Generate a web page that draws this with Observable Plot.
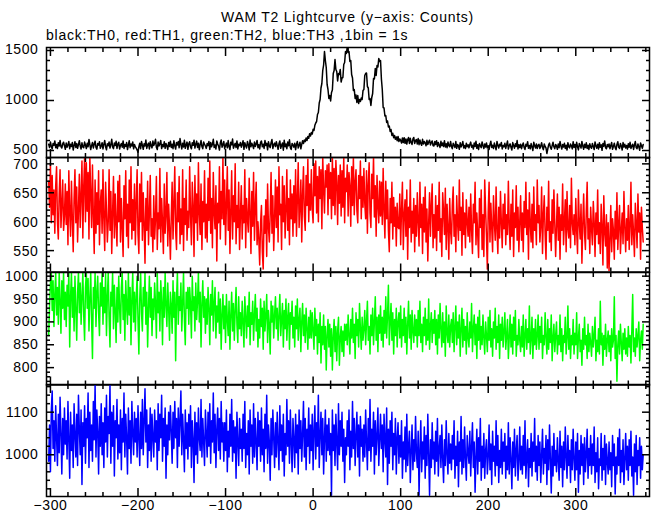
<!DOCTYPE html>
<html><head><meta charset="utf-8">
<script src="https://cdn.jsdelivr.net/npm/d3@7"></script>
<script src="https://cdn.jsdelivr.net/npm/@observablehq/plot@0.6"></script>
<style>
body{margin:0;background:#fff;}
#chart{position:relative;width:652px;height:515px;font-family:"Liberation Sans",Arial,sans-serif;overflow:hidden;}
.t{position:absolute;font-size:14px;line-height:16px;letter-spacing:0.75px;color:#000;white-space:nowrap;}
</style></head><body>
<div id="chart">
<div class="t" style="left:0;width:695px;text-align:center;top:9px">WAM T2 Lightcurve (y−axis: Counts)</div>
<div class="t" style="left:46px;top:27px">black:TH0, red:TH1, green:TH2, blue:TH3 ,1bin = 1s</div>
</div>
<script>
const tStart = -302; // time (s) of first 1 s bin
const th0 = [
562,530,585,541,515,570,552,596,528,560,520,578,545,601,538,525,566,583,548,512,
575,533,556,590,518,563,540,580,505,551,588,530,569,522,560,598,545,515,577,536,
527,584,555,519,572,538,610,560,510,549,581,525,565,594,532,514,571,553,587,522,
546,578,516,561,600,538,507,568,547,585,524,558,612,535,518,575,549,592,521,564,
583,515,552,570,533,596,520,561,540,579,509,555,598,528,566,545,586,517,560,536,
524,505,482,536,572,518,590,553,512,568,545,604,521,556,574,515,588,547,526,595,
549,572,612,532,509,584,546,565,600,519,559,538,587,522,570,548,511,580,541,593,
530,563,518,597,547,514,581,555,589,527,620,561,516,573,536,602,522,558,584,512,
566,588,535,517,578,552,603,524,562,594,531,572,508,558,599,540,518,586,561,545,
521,570,549,590,510,580,537,563,612,529,556,515,595,565,543,504,575,605,533,558,
590,518,551,574,527,600,539,509,583,557,615,522,550,571,530,596,516,562,548,581,
533,562,597,512,578,547,525,590,558,505,604,538,572,552,519,585,541,566,601,528,
557,516,582,595,537,563,521,600,550,571,507,588,546,529,579,610,520,558,574,540,
588,551,512,567,596,522,553,576,503,602,538,565,518,584,548,607,529,510,571,555,
534,573,508,560,590,524,552,583,517,561,598,570,605,588,625,600,640,622,668,645,
680,665,712,700,752,775,790,860,880,975,1010,1125,1170,1300,1355,1490,1400,1330,1160,1110,
1020,1050,995,1080,1105,1270,1300,1410,1310,1290,1195,1270,1260,1310,1185,1225,1230,1360,1380,1490,
1470,1535,1480,1490,1390,1400,1260,1225,1100,1110,1020,1055,980,1050,970,1010,990,1025,1010,1100,
1110,1250,1270,1275,1140,1125,1010,1020,950,1030,1070,1220,1215,1320,1250,1350,1335,1420,1390,1400,
1215,1110,930,925,845,850,780,795,735,745,690,710,650,672,628,650,612,635,598,640,
590,615,600,575,625,580,628,572,615,565,610,630,570,622,580,560,615,630,570,600,
610,565,620,558,605,570,552,612,566,590,575,548,602,560,585,603,556,580,595,550,
545,590,560,598,540,580,553,530,592,548,575,540,598,535,568,528,585,550,538,590,
540,518,572,553,530,590,522,560,545,512,578,536,556,590,525,550,520,573,538,557,
526,560,584,533,552,515,575,540,592,522,558,510,570,547,528,586,550,519,565,535,
576,524,548,511,560,592,530,553,520,574,541,508,590,552,525,563,545,581,516,550,
537,572,521,556,594,514,548,566,532,505,579,549,523,568,540,600,516,558,530,563,
518,552,575,531,510,562,544,588,522,551,517,569,536,500,582,547,524,565,519,553,
562,520,545,578,530,508,566,540,525,470,515,556,574,532,512,549,583,537,518,560,
545,512,566,528,590,548,514,560,535,572,520,553,505,578,538,526,565,547,516,588,
530,561,517,582,536,506,570,549,524,591,545,513,563,529,577,520,552,510,568,534,
522,570,541,509,586,548,523,562,515,578,532,557,502,569,543,596,528,517,560,538,
566,518,550,580,512,541,573,528,508,561,588,532,521,570,546,505,579,535,562,524,
551,514,568,533,582,520,545,563,511,555,590,529,518,566,537,503,575,548,522,560
];
const th1 = [
670,625,700,598,680,612,655,580,662,695,600,570,648,690,590,630,672,585,610,665,
595,652,560,688,615,575,670,605,548,640,690,598,660,565,620,682,590,645,705,572,
660,710,600,702,618,685,570,712,648,590,698,610,545,672,580,650,595,688,560,632,
655,580,690,605,550,668,620,565,600,690,585,652,545,615,678,572,648,595,558,670,
600,680,565,640,590,540,662,605,688,575,630,555,672,598,695,570,638,585,665,560,
632,690,580,545,665,600,685,568,650,595,528,640,585,670,560,615,680,575,605,548,
645,570,605,678,552,615,588,692,565,640,598,545,665,580,612,685,558,630,590,535,
608,668,570,630,695,585,552,650,600,678,562,622,578,690,550,640,595,672,568,618,
590,695,612,560,668,625,540,680,598,648,568,702,615,578,665,552,635,600,688,572,
630,565,675,602,705,580,640,555,685,615,588,662,532,632,598,695,570,652,605,712,
595,672,560,630,695,585,655,545,618,688,570,645,600,700,562,628,590,668,552,612,
662,570,628,598,690,555,640,605,582,675,615,545,652,592,685,568,625,668,560,600,
570,525,598,628,548,518,610,580,638,540,665,590,565,615,685,580,645,550,605,672,
590,660,565,695,612,630,552,678,600,662,572,620,690,585,640,560,672,605,648,575,
662,598,690,575,640,702,590,625,672,565,648,695,610,585,680,628,708,600,665,620,
690,622,598,700,645,705,615,678,600,695,640,690,588,712,655,615,688,660,698,612,
700,640,685,605,712,628,692,612,706,668,595,680,632,698,610,688,625,712,598,675,
652,698,610,685,662,592,695,628,712,612,668,690,620,598,680,640,705,605,678,625,
692,632,605,688,580,665,702,615,590,682,640,712,608,662,575,680,628,598,670,610,
668,595,692,620,572,670,605,655,585,548,640,598,668,570,642,592,625,558,632,590,
588,648,560,622,668,552,612,638,575,655,535,625,590,672,565,618,580,640,548,628,
575,650,600,558,668,590,630,545,642,582,660,565,622,532,598,650,575,628,665,555,
612,572,645,550,628,585,668,565,605,540,650,618,578,658,552,630,590,535,640,585,
562,628,660,575,612,548,645,598,568,672,585,625,542,650,578,615,555,638,600,575,
625,565,648,585,545,630,598,668,560,615,578,538,640,590,655,552,612,540,672,620,
575,518,618,668,565,632,590,548,645,600,568,660,585,545,625,572,652,598,555,630,
588,648,560,612,578,670,595,552,630,575,655,540,615,590,662,568,625,548,600,645,
568,615,548,635,590,668,578,620,535,650,598,565,630,555,660,585,612,560,672,598,
628,565,592,660,545,612,645,578,535,625,585,670,565,600,550,638,580,655,598,540,
592,648,568,625,535,612,585,665,560,600,638,548,652,588,572,628,555,675,598,578,
612,560,640,585,545,655,598,570,630,528,595,648,580,552,618,668,570,605,545,625,
588,560,635,600,540,615,578,655,562,598,545,630,590,525,645,582,558,612,520,598,
515,570,628,548,605,585,535,618,570,650,552,595,628,545,585,615,562,652,590,548,
605,568,628,552,592,668,560,612,580,540,632,595,555,648,582,615,535,625,590,565
];
const th2 = [
870,935,985,1008,925,990,890,960,1008,915,975,895,1008,945,875,990,930,1008,905,965,
890,980,935,1008,845,955,1008,910,975,880,1000,930,860,965,1008,920,985,895,955,1008,
915,860,975,1008,930,995,880,950,1008,905,820,975,930,1008,890,965,1000,920,870,985,
935,1008,895,975,920,1005,870,955,1008,910,845,965,935,1008,885,980,925,855,975,900,
1000,930,875,975,1008,905,960,860,990,935,895,1008,915,975,850,950,1008,900,965,880,
955,1000,905,830,950,1008,920,880,975,935,1008,895,965,845,930,1000,910,975,870,950,
905,985,940,865,1008,920,965,880,990,945,850,975,910,1008,935,890,985,930,860,965,
935,875,990,910,965,815,950,1008,895,955,925,985,880,940,1008,905,850,965,930,975,
895,975,940,865,1000,925,955,880,985,905,945,1008,900,965,845,940,990,910,955,875,
950,895,975,930,850,960,915,990,880,940,975,865,935,900,965,875,950,840,915,960,
885,935,855,960,905,870,945,840,915,965,880,940,860,925,975,895,855,955,885,920,
870,945,900,845,955,910,865,935,890,965,850,920,895,945,860,915,960,880,930,845,
905,865,950,890,930,840,945,880,915,960,855,925,895,830,945,900,935,865,915,955,
885,930,860,915,960,870,905,940,845,925,885,950,860,910,940,840,920,895,945,865,
910,845,935,885,950,860,905,930,835,900,940,870,915,855,930,885,840,910,865,925,
865,920,880,840,930,870,905,830,895,855,920,810,890,850,915,840,890,795,870,905,
845,895,825,885,795,870,905,835,890,815,880,910,805,865,890,835,880,825,895,860,
895,850,915,870,830,905,865,930,855,895,820,920,870,905,845,940,885,840,910,860,
885,925,850,900,945,860,890,830,915,870,930,850,900,955,860,910,835,915,875,935,
860,910,845,925,875,955,865,915,980,850,900,940,860,920,830,905,870,930,845,900,
920,865,935,845,905,870,930,855,910,830,895,945,865,915,840,925,880,855,915,870,
905,845,925,870,945,855,895,835,910,870,930,850,905,860,950,840,890,920,855,905,
875,925,850,905,830,915,865,940,885,845,920,855,900,825,935,875,855,915,845,890,
905,855,920,835,890,935,850,900,865,915,825,885,930,845,905,860,890,830,920,865,
845,900,865,940,835,885,915,850,895,820,910,860,925,840,890,850,915,865,830,900,
870,835,910,860,925,845,885,825,900,865,930,840,890,855,915,820,895,860,910,845,
880,920,840,870,905,820,865,915,845,895,830,910,860,925,825,870,850,905,860,835,
890,845,915,825,870,905,840,885,855,935,830,865,910,820,885,850,905,840,870,915,
840,890,855,910,820,870,850,920,865,830,905,840,885,855,915,815,865,895,835,870,
900,830,870,850,915,835,885,815,870,855,910,830,865,935,840,885,820,870,850,905,
830,875,850,920,820,865,895,835,860,805,885,840,910,850,870,820,895,835,875,855,
825,890,845,870,910,815,860,835,885,830,945,850,875,805,870,840,895,825,860,880,
835,870,815,885,845,860,955,820,870,770,850,880,830,895,855,815,875,840,885,830,
865,825,890,845,870,810,880,960,835,865,825,885,845,870,900,815,860,880,840,895
];
const th3 = [
985,1070,960,1105,1150,1015,1080,985,1115,1040,975,1095,1005,1135,1050,955,1085,1000,1110,1025,
1080,990,1125,1035,945,1100,1010,1070,970,1120,1045,995,1095,975,1140,1060,1000,1105,930,1075,
1020,1115,980,1085,1040,1145,970,1100,1010,1070,985,1125,1035,1165,995,1105,1055,955,1090,1020,
1120,1000,1075,970,1110,1030,1140,995,1090,1050,1165,980,1100,1020,1115,950,1080,1040,1130,990,
1070,1005,1105,965,1085,1030,1145,995,1095,1040,955,1110,1015,1080,980,1125,1050,1000,1100,1030,
1085,995,1115,1040,975,1100,1015,1130,1000,1080,1155,1030,1105,970,1070,1010,1110,985,1095,1040,
995,1105,1030,1080,965,1120,1010,1095,1040,1140,985,1085,1020,1110,945,1070,1000,1100,1035,1115,
1055,980,1100,1015,1125,1040,1085,970,1110,1020,1080,1150,1000,1095,1035,960,1105,1015,1075,990,
1095,1020,1115,970,1080,1035,935,1100,1000,1075,980,1110,1040,1010,1130,995,1085,1030,975,1105,
1050,995,1100,1020,1120,980,1080,1030,1145,1005,1095,970,1060,1110,1010,1085,990,1125,1030,1075,
985,1075,1010,1105,960,1055,995,1095,1020,1130,985,1080,1005,1065,945,1100,1030,975,1085,1015,
1060,985,1095,1015,1125,970,1050,1000,1080,955,1105,1020,1070,980,1120,995,1085,1030,965,1100,
1020,1080,985,1110,1000,1060,960,1095,1015,1140,980,1070,1030,940,1085,1000,1105,1040,970,1075,
995,1100,1030,965,1115,1010,1070,985,1095,950,1050,1000,1130,1020,1080,980,1105,1030,960,1085,
1035,970,1095,1005,1070,955,1105,1015,1080,985,1050,1125,995,1085,965,1060,1020,1110,980,1070,
1010,1095,965,1055,1115,990,1075,1020,1140,970,1045,1100,1000,1085,955,1040,1105,985,1070,1010,
1085,1000,1050,905,1105,1010,1070,975,1095,1030,965,1120,1000,1080,1020,1100,985,1060,935,1040,
1000,1080,1020,1105,965,1055,995,1125,1015,1085,975,1045,1100,995,1070,950,1090,1020,1060,985,
1070,995,1105,1030,965,1085,1010,1130,985,1060,1020,1100,955,1080,1000,1045,1110,975,1035,1095,
1015,1070,960,1095,1035,995,1110,930,1060,980,1080,1020,1100,965,1050,1000,1085,955,1040,1075,
980,1045,995,1080,945,1030,990,1065,960,1095,975,1020,1055,935,1010,1070,965,1035,985,1090,
1005,970,1055,905,1010,1080,960,1030,990,1065,945,1045,975,1095,1000,905,1035,970,1075,990,
1030,955,1055,985,1085,950,1015,1045,970,1070,990,935,1035,975,1080,1000,955,1050,980,1025,
965,1045,990,1080,945,1020,975,1055,925,1030,985,1090,955,1035,970,1065,990,940,1045,1005,
980,1055,950,1020,1075,970,1030,912,995,1060,955,1040,985,1085,940,1020,970,1050,945,1010,
1035,955,995,1070,965,1025,930,1055,985,1020,950,1080,975,1045,935,1010,970,1060,955,1030,
985,1050,945,1020,965,1075,955,1040,990,920,1030,970,1060,950,1010,1045,940,985,1065,965,
1020,955,1045,975,1080,945,995,1035,925,1015,970,1050,950,1030,985,1085,960,1020,940,1045,
975,1030,935,1000,1060,955,1015,980,1045,930,1035,965,1070,990,910,1020,950,1050,975,1010,
960,1040,985,940,1055,970,1020,925,1030,965,1065,995,945,1045,975,1010,935,1035,965,1060,
990,940,1030,965,1050,912,1010,955,1045,975,1025,930,1040,960,1000,1060,945,1015,975,1045,
955,1025,975,1065,935,1005,960,1040,920,990,975,1050,940,1015,965,1045,930,1025,985,955,
1030,965,1005,925,1045,975,1025,908,995,955,1040,975,1060,935,1010,960,1035,930,990,1050,
965,1020,940,1035,975,1055,950,995,905,1025,960,1045,930,1010,975,1040,945,1020,965,1000
];

// tick labels
const xTickLabels = [-300, -200, -100, 0, 100, 200, 300];
const yTicks0 = [500, 1000, 1500];
const yTicks1 = [550, 600, 650, 700];
const yTicks2 = [800, 850, 900, 950, 1000];
const yTicks3 = [1000, 1100];

const xDomain = [-304.5, 384.2];
const panels = [
  {vals: th0, color: "#000000", top: 47, bottom: 157, domain: [430, 1530], major: yTicks0, minor: 100, dy: -1},
  {vals: th1, color: "#ff0000", top: 157, bottom: 271.5, domain: [513, 711], major: yTicks1, minor: 10, dy: 1},
  {vals: th2, color: "#00ff00", top: 271.5, bottom: 384, domain: [762, 1008], major: yTicks2, minor: 10, dy: 0},
  {vals: th3, color: "#0000ff", top: 384, bottom: 496, domain: [902, 1165], major: yTicks3, minor: 20, dy: 0}
];

const fmt = d3.format("d");
const root = document.getElementById("chart");
const xMinor = d3.range(-300, 384, 20).filter(v => !xTickLabels.includes(v));

panels.forEach((p, k) => {
  const last = k === panels.length - 1;
  const mb = last ? 19 : 0;
  const h = p.bottom - p.top + mb;
  const rows = p.vals.map((v, i) => ({t: tStart + i, v}));
  const yMinor = d3.range(Math.ceil(p.domain[0] / p.minor) * p.minor, p.domain[1], p.minor)
    .filter(v => !p.major.includes(v));
  const tk = {fill: "none", label: null, strokeWidth: 1.5, stroke: "black"};
  const marks = [
    Plot.line(rows, {x: "t", y: "v", stroke: p.color, strokeWidth: 1.5, clip: true}),
    Plot.axisY(p.major, {anchor: "left", tickSize: -8, ...tk}),
    Plot.axisY(yMinor, {anchor: "left", tickSize: -4, ...tk}),
    Plot.axisY(p.major, {anchor: "right", tickSize: -8, ...tk}),
    Plot.axisY(yMinor, {anchor: "right", tickSize: -4, ...tk}),
    Plot.axisX(xTickLabels, {anchor: "top", tickSize: -8, ...tk}),
    Plot.axisX(xMinor, {anchor: "top", tickSize: -4, ...tk}),
    Plot.axisX(xTickLabels, {anchor: "bottom", tickSize: -8, ...tk}),
    Plot.axisX(xMinor, {anchor: "bottom", tickSize: -4, ...tk}),
    Plot.axisY(p.major, {anchor: "left", tickSize: 0, tickPadding: 8, tickFormat: fmt, fontSize: 14, label: null, fill: "black", dy: p.dy}),
    Plot.frame({stroke: "black", strokeWidth: 1.5})
  ];
  if (last) {
    marks.push(Plot.axisX(xTickLabels, {anchor: "bottom", tickSize: 0, tickPadding: 4, tickFormat: fmt, fontSize: 14, label: null, fill: "black"}));
  }
  const svg = Plot.plot({
    width: 652, height: h,
    marginLeft: 46, marginRight: 3, marginTop: 0, marginBottom: mb,
    x: {domain: xDomain},
    y: {domain: p.domain},
    style: {background: "transparent", overflow: "visible", fontFamily: "'Liberation Sans', Arial, sans-serif", fontSize: "14px", letterSpacing: "0.6px", color: "black"},
    marks
  });
  svg.style.position = "absolute";
  svg.style.left = "0px";
  svg.style.top = p.top + "px";
  root.appendChild(svg);
});
</script>
</body></html>
